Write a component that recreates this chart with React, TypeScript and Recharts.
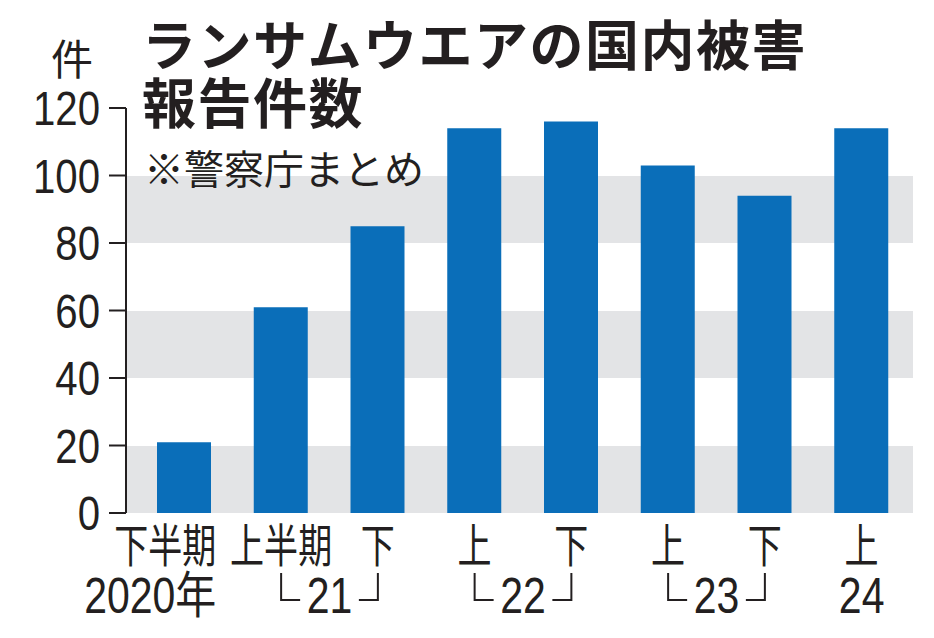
import React from "react";
import { BarChart, Bar, XAxis, YAxis, CartesianGrid } from "recharts";

const periods = ["下半期", "上半期", "下", "上", "下", "上", "下", "上"];
const counts = [21, 61, 85, 114, 116, 103, 94, 114];
const yearGroups = [
  { label: "2020年", from: 0, to: 0 },
  { label: "21", from: 1, to: 2 },
  { label: "22", from: 3, to: 4 },
  { label: "23", from: 5, to: 6 },
  { label: "24", from: 7, to: 7 },
];
const yTicks = [0, 20, 40, 60, 80, 100, 120];
const titleLines = ["ランサムウエアの国内被害", "報告件数"];
const subtitle = "※警察庁まとめ";
const unitLabel = "件";

const data = periods.map((p, i) => ({ id: i, period: p, count: counts[i] }));

const INK = "#231f20";
const BLUE = "#0a6eb9";
const GRAY = "#e3e4e6";
const NUM_FONT = "'Liberation Sans', Arial, 'Noto Sans CJK JP', sans-serif";
const JP_FONT = "'Noto Sans CJK JP', 'Noto Sans', sans-serif";

const YTick = (props: any) => {
  const { x, y, payload } = props;
  return (
    <text
      transform={`translate(${x},${y + 17}) scale(0.82,1)`}
      textAnchor="end"
      fontSize={49}
      fontFamily={NUM_FONT}
      fill={INK}
    >
      {payload.value}
    </text>
  );
};

const XTick = (props: any) => {
  const { x, y, payload } = props;
  const i = Number(payload.value);
  const step = payload && payload.offset ? payload.offset * 2 : 96.75;
  const first = i === 0;
  const ax = first ? x + 32 : x;
  const anchor = first ? "end" : "middle";
  const group = yearGroups.find((g) => g.from === i);
  let second: React.ReactNode = null;
  if (group) {
    if (group.from === group.to) {
      second = (
        <text
          transform={`translate(${ax},${y + 100}) scale(0.82,1)`}
          textAnchor={anchor}
          fontSize={50}
          fontFamily={NUM_FONT}
          fill={INK}
        >
          {group.label}
        </text>
      );
    } else {
      const span = step * (group.to - group.from);
      const cx = x + span / 2;
      const top = y + 60;
      const bot = y + 87;
      second = (
        <g>
          <text
            transform={`translate(${cx},${y + 100}) scale(0.82,1)`}
            textAnchor="middle"
            fontSize={50}
            fontFamily={NUM_FONT}
            fill={INK}
          >
            {group.label}
          </text>
          <path
            d={`M${x},${top} L${x},${bot} L${x + 19},${bot} M${x + span},${top} L${x + span},${bot} L${x + span - 19},${bot}`}
            stroke={INK}
            strokeWidth={2}
            fill="none"
          />
        </g>
      );
    }
  }
  return (
    <g>
      <text
        transform={`translate(${ax},${y + 49}) scale(0.74,1)`}
        textAnchor={anchor}
        fontSize={46}
        fontFamily={JP_FONT}
        fill={INK}
      >
        {periods[i]}
      </text>
      {second}
    </g>
  );
};

export default function App() {
  return (
    <div style={{ position: "absolute", left: 0, top: 0, width: 934, height: 638, background: "#fff" }}>
      <BarChart
        width={934}
        height={638}
        data={data}
        margin={{ top: 108, right: 21, bottom: 5, left: 0 }}
        barCategoryGap={0}
      >
        <CartesianGrid
          vertical={false}
          stroke="none"
          horizontalFill={["transparent", GRAY]}
        />
        <XAxis
          dataKey="id"
          type="category"
          axisLine={false}
          tickLine={false}
          tickSize={0}
          tickMargin={0}
          height={120}
          padding={{ left: 10, right: 3 }}
          interval={0}
          tick={<XTick />}
        />
        <YAxis
          domain={[0, 120]}
          ticks={yTicks}
          width={126}
          axisLine={{ stroke: INK, strokeWidth: 2 }}
          tickLine={{ stroke: INK, strokeWidth: 2 }}
          tickSize={17}
          tickMargin={9}
          interval={0}
          tick={<YTick />}
        />
        <Bar dataKey="count" fill={BLUE} barSize={54} isAnimationActive={false} />
      </BarChart>
      <svg
        width={934}
        height={638}
        style={{ position: "absolute", left: 0, top: 0, pointerEvents: "none" }}
      >
        <text x={72} y={75} textAnchor="middle" fontSize={42} fontFamily={JP_FONT} fill={INK}>
          {unitLabel}
        </text>
        <text x={142} y={66} fontSize={54} fontWeight={700} letterSpacing={1.5} fontFamily={JP_FONT} fill={INK}>
          {titleLines[0]}
        </text>
        <text x={142} y={124} fontSize={54} fontWeight={700} letterSpacing={1.5} fontFamily={JP_FONT} fill={INK}>
          {titleLines[1]}
        </text>
        <text x={144} y={184} fontSize={40} fontFamily={JP_FONT} fill={INK}>
          {subtitle}
        </text>
      </svg>
    </div>
  );
}
